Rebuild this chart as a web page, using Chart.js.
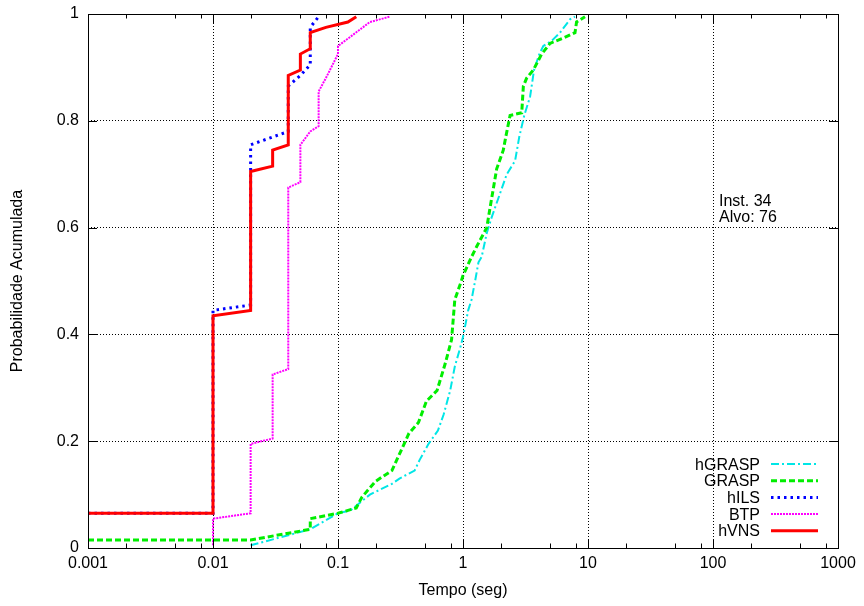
<!DOCTYPE html>
<html lang="pt">
<head>
<meta charset="UTF-8">
<title>Inst. 34 - Probabilidade Acumulada</title>
<script src="https://cdn.jsdelivr.net/npm/chart.js"></script>
<style>
  html, body { margin: 0; padding: 0; background: #fff; }
  canvas { display: block; }
</style>
</head>
<body>
<canvas id="ttt" width="864" height="606"></canvas>
<script>
// tempos (seg) e probabilidade acumulada de cada algoritmo
const hgraspT = [0.02, 0.06, 0.1, 0.125, 0.18, 0.22, 0.27, 0.31, 0.41, 0.45, 0.53, 0.63, 0.7, 0.79, 0.86, 0.95, 1.0, 1.1, 1.17, 1.25, 1.33, 1.41, 1.55, 1.7, 2.24, 2.61, 2.82, 3.09, 3.44, 3.7, 4.08, 4.39, 5.13, 5.97, 7.18, 7.87];
const hgraspP = [0.005, 0.035, 0.065, 0.07, 0.1, 0.11, 0.12, 0.13, 0.145, 0.165, 0.195, 0.22, 0.25, 0.295, 0.34, 0.375, 0.395, 0.445, 0.465, 0.5, 0.535, 0.545, 0.59, 0.62, 0.7, 0.725, 0.77, 0.81, 0.845, 0.895, 0.925, 0.94, 0.95, 0.965, 0.99, 0.995];

const graspT = [0.001, 0.02, 0.06, 0.06, 0.1, 0.14, 0.155, 0.2, 0.27, 0.37, 0.44, 0.51, 0.62, 0.72, 0.81, 0.86, 0.97, 1.0, 1.17, 1.29, 1.55, 1.64, 1.86, 2.1, 2.2, 2.38, 2.95, 3.04, 3.23, 3.65, 4.26, 4.97, 6.35, 7.87, 8.1, 9.46];
const graspP = [0.015, 0.015, 0.035, 0.055, 0.065, 0.075, 0.095, 0.125, 0.145, 0.215, 0.235, 0.275, 0.295, 0.345, 0.39, 0.465, 0.5, 0.51, 0.545, 0.565, 0.6, 0.635, 0.71, 0.745, 0.77, 0.81, 0.815, 0.865, 0.88, 0.895, 0.925, 0.945, 0.955, 0.965, 0.985, 0.995];

const hilsT = [0.001, 0.01, 0.01, 0.02, 0.02, 0.04, 0.04, 0.05, 0.06, 0.06, 0.07];
const hilsP = [0.065, 0.065, 0.445, 0.455, 0.755, 0.78, 0.865, 0.885, 0.905, 0.975, 0.995];

const btpT = [0.01, 0.01, 0.02, 0.02, 0.03, 0.03, 0.04, 0.04, 0.05, 0.05, 0.06, 0.07, 0.07, 0.08, 0.1, 0.1, 0.13, 0.18, 0.26];
const btpP = [0.005, 0.055, 0.065, 0.195, 0.205, 0.325, 0.335, 0.675, 0.685, 0.755, 0.78, 0.79, 0.855, 0.88, 0.925, 0.94, 0.96, 0.985, 0.995];

const hvnsT = [0.001, 0.01, 0.01, 0.02, 0.02, 0.03, 0.03, 0.04, 0.04, 0.05, 0.05, 0.06, 0.06, 0.08, 0.12, 0.14];
const hvnsP = [0.065, 0.065, 0.435, 0.445, 0.705, 0.715, 0.745, 0.755, 0.885, 0.895, 0.925, 0.935, 0.965, 0.975, 0.985, 0.995];

const xTicks = [0.001, 0.01, 0.1, 1, 10, 100, 1000];
const xLabels = ['0.001', '0.01', '0.1', '1', '10', '100', '1000'];
const xMinor = [2, 5, 8];
const yTicks = [0, 0.2, 0.4, 0.6, 0.8, 1];
const yLabels = ['0', '0.2', '0.4', '0.6', '0.8', '1'];
const infoLines = ['Inst. 34', 'Alvo: 76'];

const FONT = '"Liberation Sans", Arial, Helvetica, sans-serif';
Chart.defaults.font.family = FONT;
Chart.defaults.font.size = 16;
Chart.defaults.color = '#000';

function pts(t, p) {
    return t.map((x, i) => ({ x: x, y: p[i] }));
}

function serie(label, t, p, color, width, dash, order) {
    return {
        label: label,
        data: pts(t, p),
        showLine: true,
        borderColor: color,
        backgroundColor: color,
        borderWidth: width,
        borderDash: dash,
        borderCapStyle: 'butt',
        pointRadius: 0,
        pointHoverRadius: 0,
        tension: 0,
        order: order
    };
}

// moldura, tics internos (gnuplot), legenda e texto da instancia
const gnuplotPlugin = {
    id: 'gnuplotExtras',
    afterDraw(chart) {
        const { ctx, chartArea: a, scales: { x, y } } = chart;
        const L = Math.round(a.left), R = Math.round(a.right);
        const T = Math.round(a.top), B = Math.round(a.bottom);
        ctx.save();
        ctx.strokeStyle = '#000';
        ctx.lineWidth = 1;
        ctx.setLineDash([]);
        ctx.beginPath();
        const vtic = (v, len) => {
            const px = Math.round(x.getPixelForValue(v)) + 0.5;
            ctx.moveTo(px, B); ctx.lineTo(px, B - len);
            ctx.moveTo(px, T); ctx.lineTo(px, T + len);
        };
        xTicks.forEach((d, i) => {
            vtic(d, 9);
            if (i < xTicks.length - 1) xMinor.forEach(m => vtic(d * m, 4.5));
        });
        yTicks.forEach(v => {
            const py = Math.round(y.getPixelForValue(v)) + 0.5;
            ctx.moveTo(L, py); ctx.lineTo(L + 9, py);
            ctx.moveTo(R, py); ctx.lineTo(R - 9, py);
        });
        ctx.stroke();
        ctx.strokeRect(L + 0.5, T + 0.5, R - L, B - T);

        // legenda
        ctx.font = '16px ' + FONT;
        ctx.fillStyle = '#000';
        ctx.textAlign = 'right';
        ctx.textBaseline = 'alphabetic';
        chart.data.datasets.forEach((ds, i) => {
            const ly = B - 84 + i * 16.7;
            ctx.fillText(ds.label, R - 78, ly + 5.5);
            ctx.save();
            ctx.strokeStyle = ds.borderColor;
            ctx.lineWidth = ds.borderWidth;
            ctx.lineCap = 'butt';
            ctx.setLineDash(ds.borderDash);
            ctx.beginPath();
            ctx.moveTo(R - 67, ly);
            ctx.lineTo(R - 20, ly);
            ctx.stroke();
            ctx.restore();
        });

        // identificacao da instancia
        ctx.textAlign = 'left';
        const tx = x.getPixelForValue(100) + 6;
        infoLines.forEach((s, i) => ctx.fillText(s, tx, T + 192 + i * 15.5));
        ctx.restore();
    }
};

new Chart(document.getElementById('ttt'), {
    type: 'scatter',
    data: {
        datasets: [
            serie('hGRASP', hgraspT, hgraspP, '#00e6e6', 2, [8, 3, 2, 3], 5),
            serie('GRASP', graspT, graspP, '#00ee00', 3, [6, 3], 4),
            serie('hILS', hilsT, hilsP, '#0000ff', 3, [2.5, 4], 3),
            serie('BTP', btpT, btpP, '#ff00ff', 2, [2, 1], 2),
            serie('hVNS', hvnsT, hvnsP, '#ff0000', 3, [], 1)
        ]
    },
    options: {
        responsive: false,
        animation: false,
        devicePixelRatio: 1,
        layout: { padding: { left: 0, right: 26, top: 14, bottom: 0 } },
        plugins: {
            legend: { display: false },
            tooltip: { enabled: false }
        },
        scales: {
            x: {
                type: 'logarithmic',
                min: 0.001,
                max: 1000,
                afterBuildTicks: s => { s.ticks = xTicks.map(v => ({ value: v })); },
                afterFit: s => { s.height = 58; s.paddingLeft = 0; s.paddingRight = 0; },
                ticks: {
                    autoSkip: false,
                    maxRotation: 0,
                    padding: 6,
                    callback: (v, i) => xLabels[i]
                },
                grid: { color: '#000', lineWidth: 1, drawTicks: false },
                border: { display: false, dash: [1, 2] },
                title: { display: true, text: 'Tempo (seg)', padding: { top: 0, bottom: 6 } }
            },
            y: {
                type: 'linear',
                min: 0,
                max: 1,
                afterBuildTicks: s => { s.ticks = yTicks.map(v => ({ value: v })); },
                afterFit: s => { s.width = 88; s.paddingTop = 0; s.paddingBottom = 0; },
                ticks: {
                    padding: 9,
                    callback: (v, i) => yLabels[i]
                },
                grid: { color: '#000', lineWidth: 1, drawTicks: false },
                border: { display: false, dash: [1, 2] },
                title: { display: true, text: 'Probabilidade Acumulada', padding: { top: 8, bottom: 0 } }
            }
        }
    },
    plugins: [gnuplotPlugin]
});
</script>
</body>
</html>
